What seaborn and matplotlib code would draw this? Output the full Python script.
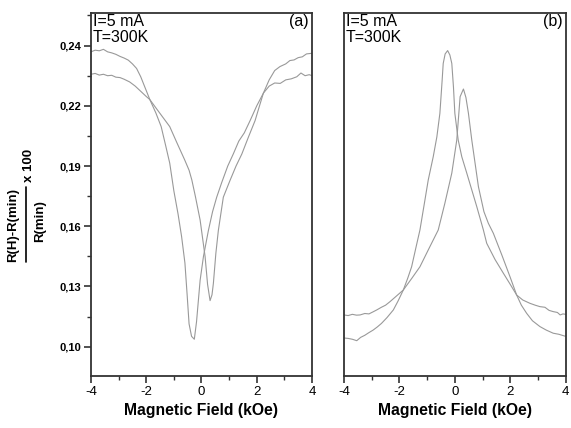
import numpy as np
import pandas as pd
import matplotlib
matplotlib.use("Agg")
import matplotlib.pyplot as plt
import seaborn as sns
from matplotlib.ticker import FixedLocator, MultipleLocator, AutoMinorLocator
from matplotlib.lines import Line2D

# panel (a): two sweeps of the magnetoresistance dip
a_deep_x = [-4.00, -3.85, -3.70, -3.55, -3.40, -3.25, -3.10, -2.95, -2.80, -2.65, -2.50,
            -2.35, -2.20, -2.05, -1.87, -1.65, -1.46, -1.30, -1.15, -1.00, -0.85, -0.72,
            -0.60, -0.52, -0.45, -0.36, -0.26, -0.18, -0.05, 0.07, 0.25, 0.40, 0.55, 0.73,
            0.95, 1.15, 1.35, 1.55, 1.76, 2.00, 2.24, 2.45, 2.65, 2.85, 3.05, 3.25, 3.45,
            3.60, 3.75, 3.90, 4.00]
a_deep_y = [0.2420, 0.2428, 0.2425, 0.2432, 0.2420, 0.2415, 0.2408, 0.2398, 0.2390, 0.2380,
            0.2362, 0.2340, 0.2300, 0.2250, 0.2190, 0.2125, 0.2060, 0.1970, 0.1884, 0.1750,
            0.1640, 0.1530, 0.1403, 0.1250, 0.1110, 0.1050, 0.1036, 0.1120, 0.1320, 0.1434,
            0.1560, 0.1650, 0.1720, 0.1790, 0.1870, 0.1928, 0.1990, 0.2030, 0.2089, 0.2160,
            0.2221, 0.2255, 0.2270, 0.2268, 0.2285, 0.2290, 0.2300, 0.2318, 0.2305, 0.2310,
            0.2305]

a_shallow_x = [-4.00, -3.85, -3.70, -3.55, -3.40, -3.25, -3.10, -2.95, -2.80, -2.60, -2.40,
               -2.20, -2.00, -1.87, -1.65, -1.40, -1.15, -0.90, -0.61, -0.45, -0.35, -0.22,
               -0.05, 0.13, 0.22, 0.31, 0.38, 0.43, 0.52, 0.61, 0.79, 1.03, 1.25, 1.46, 1.70,
               1.94, 2.10, 2.24, 2.45, 2.65, 2.84, 3.05, 3.20, 3.35, 3.50, 3.65, 3.80, 4.00]
a_shallow_y = [0.2312, 0.2316, 0.2308, 0.2312, 0.2305, 0.2307, 0.2298, 0.2296, 0.2288, 0.2275,
               0.2255, 0.2230, 0.2205, 0.2190, 0.2150, 0.2105, 0.2060, 0.1985, 0.1900, 0.1850,
               0.1803, 0.1723, 0.1610, 0.1434, 0.1300, 0.1222, 0.1250, 0.1305, 0.1450, 0.1560,
               0.1720, 0.1800, 0.1870, 0.1928, 0.2010, 0.2089, 0.2160, 0.2221, 0.2285, 0.2330,
               0.2349, 0.2362, 0.2378, 0.2381, 0.2392, 0.2396, 0.2410, 0.2413]

# panel (b): two sweeps of the magnetoresistance peak
b_tall_x = [-4.00, -3.85, -3.70, -3.54, -3.40, -3.25, -3.10, -2.95, -2.80, -2.65, -2.45,
            -2.22, -2.05, -1.86, -1.70, -1.56, -1.40, -1.26, -1.10, -0.96, -0.78, -0.65,
            -0.54, -0.46, -0.42, -0.35, -0.26, -0.18, -0.11, -0.05, 0.00, 0.12, 0.25, 0.43,
            0.60, 0.79, 1.03, 1.15, 1.45, 1.75, 2.00, 2.23, 2.45, 2.71, 2.90, 3.07, 3.25,
            3.40, 3.55, 3.70, 3.80, 3.90, 4.00]
b_tall_y = [0.1042, 0.1040, 0.1036, 0.1029, 0.1045, 0.1055, 0.1068, 0.1080, 0.1095, 0.1112,
            0.1140, 0.1177, 0.1220, 0.1273, 0.1330, 0.1385, 0.1480, 0.1562, 0.1690, 0.1803,
            0.1915, 0.2010, 0.2124, 0.2280, 0.2364, 0.2410, 0.2426, 0.2405, 0.2364, 0.2250,
            0.2124, 0.1996, 0.1915, 0.1836, 0.1760, 0.1675, 0.1562, 0.1498, 0.1420, 0.1354,
            0.1300, 0.1249, 0.1225, 0.1209, 0.1200, 0.1193, 0.1190, 0.1175, 0.1169, 0.1165,
            0.1153, 0.1158, 0.1156]

b_low_x = [-4.00, -3.85, -3.70, -3.55, -3.42, -3.25, -3.10, -2.95, -2.82, -2.65, -2.50,
           -2.34, -2.10, -1.86, -1.55, -1.26, -0.96, -0.60, -0.36, -0.11, 0.07, 0.19, 0.31,
           0.40, 0.49, 0.61, 0.85, 1.05, 1.21, 1.39, 1.70, 1.99, 2.23, 2.40, 2.59, 2.80,
           3.07, 3.30, 3.55, 3.75, 3.97, 4.00]
b_low_y = [0.1153, 0.1150, 0.1156, 0.1152, 0.1153, 0.1160, 0.1158, 0.1168, 0.1177, 0.1190,
           0.1200, 0.1217, 0.1245, 0.1273, 0.1330, 0.1385, 0.1466, 0.1562, 0.1691, 0.1836,
           0.1996, 0.2204, 0.2241, 0.2200, 0.2124, 0.1996, 0.1771, 0.1650, 0.1594, 0.1546,
           0.1440, 0.1337, 0.1249, 0.1200, 0.1161, 0.1125, 0.1097, 0.1080, 0.1065, 0.1060,
           0.1051, 0.1052]

x_ticks = [-4, -2, 0, 2, 4]
y_ticks = [0.100, 0.129, 0.158, 0.187, 0.216, 0.245]
y_ticklabels = ["0,10", "0,13", "0,16", "0,19", "0,22", "0,24"]
panel_tags = ["(a)", "(b)"]
info_text = "I=5 mA\nT=300K"

sns.set_style("ticks")
plt.rcParams["font.family"] = ["Liberation Sans", "DejaVu Sans"]
plt.rcParams.update({"text.color": "black", "axes.labelcolor": "black",
                     "xtick.color": "black", "ytick.color": "black"})

fig = plt.figure(figsize=(5.71, 4.28), dpi=100)
ax_a = fig.add_axes([91 / 571, 1 - 376 / 428, 221 / 571, 363 / 428])
ax_b = fig.add_axes([344 / 571, 1 - 376 / 428, 221.7 / 571, 363 / 428])

line_col = "#999999"
curves = [
    (ax_a, a_deep_x, a_deep_y), (ax_a, a_shallow_x, a_shallow_y),
    (ax_b, b_tall_x, b_tall_y), (ax_b, b_low_x, b_low_y),
]
for ax, xs, ys in curves:
    df = pd.DataFrame({"H": xs, "MR": ys})
    sns.lineplot(data=df, x="H", y="MR", ax=ax, sort=False, color=line_col, lw=0.8)

for ax, tag in zip([ax_a, ax_b], panel_tags):
    ax.set_xlim(-4, 4)
    ax.set_ylim(0.0859, 0.2607)
    ax.xaxis.set_major_locator(FixedLocator(x_ticks))
    ax.xaxis.set_minor_locator(MultipleLocator(1))
    ax.set_xticklabels([str(t) for t in x_ticks], fontsize=9.5)
    for s in ax.spines.values():
        s.set_linewidth(1.3)
        s.set_color("#333333")
    ax.tick_params(which="major", direction="out", length=5, width=1.2, color="#333333", pad=2)
    ax.tick_params(which="minor", direction="out", length=3, width=1.0, color="#333333")
    ax.set_xlabel("Magnetic Field (kOe)", fontsize=11.3, fontweight="bold", labelpad=4)
    ax.set_ylabel("")
    ax.text(0.008, 0.997, info_text, transform=ax.transAxes, ha="left", va="top",
            fontsize=11.5, linespacing=1.05)
    ax.text(0.985, 0.997, tag, transform=ax.transAxes, ha="right", va="top", fontsize=11.5)

ax_a.yaxis.set_major_locator(FixedLocator(y_ticks))
ax_a.yaxis.set_minor_locator(AutoMinorLocator(2))
ax_a.set_yticklabels(y_ticklabels, fontsize=8, fontweight="bold")
ax_b.tick_params(axis="y", which="both", left=False, labelleft=False)

# y label drawn as a fraction
fig.text(13 / 571, 1 - 225 / 428, "R(H)-R(min)", rotation=90, ha="center", va="center",
         fontsize=9.5, fontweight="bold")
fig.text(40 / 571, 1 - 221 / 428, "R(min)", rotation=90, ha="center", va="center",
         fontsize=9.5, fontweight="bold")
fig.text(29 / 571, 1 - 165 / 428, "x 100", rotation=90, ha="center", va="center",
         fontsize=9.5, fontweight="bold")
fig.add_artist(Line2D([26.5 / 571, 26.5 / 571], [1 - 262 / 428, 1 - 187 / 428],
                      transform=fig.transFigure, color="black", lw=1.2))

fig.savefig("out.png", dpi=100)
